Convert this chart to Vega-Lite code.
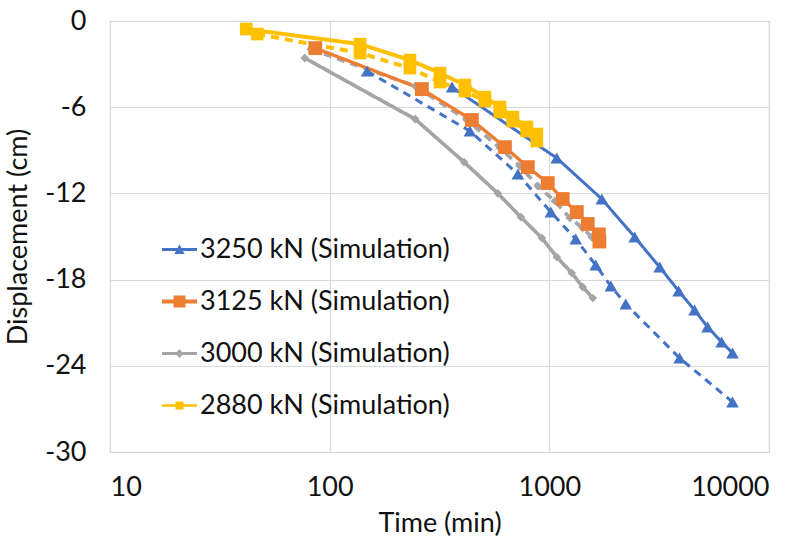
{
  "$schema": "https://vega.github.io/schema/vega-lite/v6.json",
  "width": 659,
  "height": 431,
  "autosize": {"type": "none"},
  "padding": {"left": 110, "top": 21, "right": 43, "bottom": 93},
  "background": "white",
  "config": {
    "font": "Lato",
    "view": {"stroke": "#D9D9D9", "strokeWidth": 1.2},
    "axis": {
      "gridColor": "#D9D9D9",
      "gridWidth": 1.2,
      "domain": false,
      "ticks": false,
      "labelColor": "#111111",
      "titleColor": "#111111",
      "labelFontSize": 27,
      "titleFontSize": 27,
      "titleFontWeight": "normal",
      "labelFont": "Lato",
      "titleFont": "Lato"
    }
  },
  "data": {
    "values": [
      {"load": "3250 kN", "type": "Simulation", "t": 361, "d": -4.6},
      {"load": "3250 kN", "type": "Simulation", "t": 1081, "d": -9.54},
      {"load": "3250 kN", "type": "Simulation", "t": 1733, "d": -12.39},
      {"load": "3250 kN", "type": "Simulation", "t": 2447, "d": -15.04},
      {"load": "3250 kN", "type": "Simulation", "t": 3179, "d": -17.13},
      {"load": "3250 kN", "type": "Simulation", "t": 3879, "d": -18.79},
      {"load": "3250 kN", "type": "Simulation", "t": 4583, "d": -20.12},
      {"load": "3250 kN", "type": "Simulation", "t": 5253, "d": -21.3},
      {"load": "3250 kN", "type": "Simulation", "t": 6084, "d": -22.34},
      {"load": "3250 kN", "type": "Simulation", "t": 6823, "d": -23.11},
      {"load": "3250 kN", "type": "Experiment", "t": 148, "d": -3.49},
      {"load": "3250 kN", "type": "Experiment", "t": 435, "d": -7.66},
      {"load": "3250 kN", "type": "Experiment", "t": 719, "d": -10.65},
      {"load": "3250 kN", "type": "Experiment", "t": 1016, "d": -13.3},
      {"load": "3250 kN", "type": "Experiment", "t": 1319, "d": -15.18},
      {"load": "3250 kN", "type": "Experiment", "t": 1626, "d": -16.99},
      {"load": "3250 kN", "type": "Experiment", "t": 1905, "d": -18.45},
      {"load": "3250 kN", "type": "Experiment", "t": 2228, "d": -19.7},
      {"load": "3250 kN", "type": "Experiment", "t": 3918, "d": -23.46},
      {"load": "3250 kN", "type": "Experiment", "t": 6823, "d": -26.52},
      {"load": "3000 kN", "type": "Experiment", "t": 82, "d": -1.96},
      {"load": "3000 kN", "type": "Experiment", "t": 245, "d": -4.53},
      {"load": "3000 kN", "type": "Experiment", "t": 422, "d": -6.9},
      {"load": "3000 kN", "type": "Experiment", "t": 596, "d": -8.84},
      {"load": "3000 kN", "type": "Experiment", "t": 734, "d": -10.1},
      {"load": "3000 kN", "type": "Experiment", "t": 887, "d": -11.49},
      {"load": "3000 kN", "type": "Experiment", "t": 1059, "d": -12.53},
      {"load": "3000 kN", "type": "Experiment", "t": 1239, "d": -13.71},
      {"load": "3000 kN", "type": "Experiment", "t": 1419, "d": -14.41},
      {"load": "3000 kN", "type": "Experiment", "t": 1560, "d": -15.04},
      {"load": "3125 kN", "type": "Simulation", "t": 86, "d": -1.89},
      {"load": "3125 kN", "type": "Simulation", "t": 263, "d": -4.74},
      {"load": "3125 kN", "type": "Simulation", "t": 444, "d": -6.89},
      {"load": "3125 kN", "type": "Simulation", "t": 628, "d": -8.78},
      {"load": "3125 kN", "type": "Simulation", "t": 798, "d": -10.17},
      {"load": "3125 kN", "type": "Simulation", "t": 984, "d": -11.28},
      {"load": "3125 kN", "type": "Simulation", "t": 1151, "d": -12.39},
      {"load": "3125 kN", "type": "Simulation", "t": 1334, "d": -13.3},
      {"load": "3125 kN", "type": "Simulation", "t": 1496, "d": -14.13},
      {"load": "3125 kN", "type": "Simulation", "t": 1680, "d": -14.85},
      {"load": "3125 kN", "type": "Simulation", "t": 1690, "d": -15.35},
      {"load": "3000 kN", "type": "Simulation", "t": 77, "d": -2.58},
      {"load": "3000 kN", "type": "Simulation", "t": 245, "d": -6.83},
      {"load": "3000 kN", "type": "Simulation", "t": 409, "d": -9.82},
      {"load": "3000 kN", "type": "Simulation", "t": 583, "d": -12.0},
      {"load": "3000 kN", "type": "Simulation", "t": 742, "d": -13.65},
      {"load": "3000 kN", "type": "Simulation", "t": 925, "d": -15.11},
      {"load": "3000 kN", "type": "Simulation", "t": 1081, "d": -16.43},
      {"load": "3000 kN", "type": "Simulation", "t": 1265, "d": -17.54},
      {"load": "3000 kN", "type": "Simulation", "t": 1419, "d": -18.52},
      {"load": "3000 kN", "type": "Simulation", "t": 1578, "d": -19.28},
      {"load": "2880 kN", "type": "Experiment", "t": 46.8, "d": -0.91},
      {"load": "2880 kN", "type": "Experiment", "t": 137.6, "d": -2.23},
      {"load": "2880 kN", "type": "Experiment", "t": 232, "d": -3.28},
      {"load": "2880 kN", "type": "Experiment", "t": 318, "d": -4.25},
      {"load": "2880 kN", "type": "Experiment", "t": 413, "d": -4.88},
      {"load": "2880 kN", "type": "Experiment", "t": 509, "d": -5.57},
      {"load": "2880 kN", "type": "Experiment", "t": 596, "d": -6.34},
      {"load": "2880 kN", "type": "Experiment", "t": 682, "d": -6.97},
      {"load": "2880 kN", "type": "Experiment", "t": 790, "d": -7.66},
      {"load": "2880 kN", "type": "Experiment", "t": 877, "d": -8.36},
      {"load": "2880 kN", "type": "Simulation", "t": 41.7, "d": -0.56},
      {"load": "2880 kN", "type": "Simulation", "t": 137.6, "d": -1.61},
      {"load": "2880 kN", "type": "Simulation", "t": 232, "d": -2.72},
      {"load": "2880 kN", "type": "Simulation", "t": 318, "d": -3.63},
      {"load": "2880 kN", "type": "Simulation", "t": 413, "d": -4.46},
      {"load": "2880 kN", "type": "Simulation", "t": 509, "d": -5.3},
      {"load": "2880 kN", "type": "Simulation", "t": 596, "d": -5.99},
      {"load": "2880 kN", "type": "Simulation", "t": 682, "d": -6.69},
      {"load": "2880 kN", "type": "Simulation", "t": 790, "d": -7.38},
      {"load": "2880 kN", "type": "Simulation", "t": 877, "d": -7.87}
    ]
  },
  "encoding": {
    "x": {
      "field": "t",
      "type": "quantitative",
      "scale": {"type": "log", "domain": [10, 10000]},
      "axis": {
        "values": [10, 100, 1000, 10000],
        "labelExpr": "'' + datum.value",
        "labelPadding": 22,
        "title": "Time (min)",
        "titlePadding": 10
      }
    },
    "y": {
      "field": "d",
      "type": "quantitative",
      "scale": {"domain": [-30, 0], "nice": false, "zero": false},
      "axis": {
        "values": [-30, -24, -18, -12, -6, 0],
        "labelExpr": "'' + datum.value",
        "labelPadding": 24,
        "title": "Displacement (cm)",
        "titlePadding": 12
      }
    },
    "color": {
      "field": "load",
      "type": "nominal",
      "scale": {
        "domain": ["3250 kN", "3125 kN", "3000 kN", "2880 kN"],
        "range": ["#4472C4", "#ED7D31", "#A5A5A5", "#FFC000"]
      },
      "legend": null
    }
  },
  "resolve": {
    "scale": {"color": "independent", "shape": "independent"},
    "legend": {"color": "independent", "shape": "independent"}
  },
  "layer": [
    {
      "mark": {"type": "line"},
      "encoding": {
        "strokeDash": {
          "field": "type",
          "type": "nominal",
          "scale": {"domain": ["Simulation", "Experiment"], "range": [[1, 0], [8, 6]]},
          "legend": null
        },
        "strokeWidth": {
          "field": "load",
          "type": "nominal",
          "scale": {"domain": ["3250 kN", "3125 kN", "3000 kN", "2880 kN"], "range": [3, 4, 2.5, 2.5]},
          "legend": null
        }
      }
    },
    {
      "transform": [{"filter": "datum.load === '3250 kN'"}],
      "mark": {"type": "point", "filled": true, "opacity": 1, "shape": "triangle-up", "size": 160}
    },
    {
      "transform": [{"filter": "datum.load === '3000 kN'"}],
      "mark": {"type": "point", "filled": true, "opacity": 1, "shape": "diamond", "size": 75}
    },
    {
      "transform": [{"filter": "datum.load === '3125 kN'"}],
      "mark": {"type": "point", "filled": true, "opacity": 1, "shape": "square", "size": 190}
    },
    {
      "transform": [{"filter": "datum.load === '2880 kN'"}],
      "mark": {"type": "point", "filled": true, "opacity": 1, "shape": "square", "size": 160}
    },
    {
      "transform": [{"filter": "datum.type === 'Simulation'"}],
      "mark": {"type": "point", "filled": true, "opacity": 0, "size": 1225},
      "encoding": {
        "color": {
          "field": "load",
          "type": "nominal",
          "scale": {
            "domain": ["3250 kN", "3125 kN", "3000 kN", "2880 kN"],
            "range": ["#4472C4", "#ED7D31", "#A5A5A5", "#FFC000"]
          },
          "legend": {
            "title": null,
            "orient": "none",
            "legendX": 52,
            "legendY": 211,
            "padding": 0,
            "labelFontSize": 27,
            "labelFont": "Lato",
            "labelColor": "#111111",
            "labelExpr": "datum.label + ' (Simulation)'",
            "labelOffset": 3,
            "symbolSize": 1225,
            "symbolOpacity": 1,
            "symbolStrokeWidth": 0,
            "rowPadding": 21,
            "labelLimit": 400
          }
        },
        "shape": {
          "field": "load",
          "type": "nominal",
          "scale": {
            "domain": ["3250 kN", "3125 kN", "3000 kN", "2880 kN"],
            "range": [
              "M-1,-0.085H1V0.085H-1Z M-0.29,0.25L0,-0.3L0.29,0.25Z",
              "M-1,-0.11H1V0.11H-1Z M-0.34,-0.34H0.34V0.34H-0.34Z",
              "M-1,-0.085H1V0.085H-1Z M0,-0.25L0.25,0L0,0.25L-0.25,0Z",
              "M-1,-0.07H1V0.07H-1Z M-0.23,-0.23H0.23V0.23H-0.23Z"
            ]
          },
          "legend": {
            "title": null,
            "orient": "none",
            "legendX": 52,
            "legendY": 211,
            "padding": 0,
            "labelFontSize": 27,
            "labelFont": "Lato",
            "labelColor": "#111111",
            "labelExpr": "datum.label + ' (Simulation)'",
            "labelOffset": 3,
            "symbolSize": 1225,
            "symbolOpacity": 1,
            "symbolStrokeWidth": 0,
            "rowPadding": 21,
            "labelLimit": 400
          }
        }
      }
    }
  ]
}
